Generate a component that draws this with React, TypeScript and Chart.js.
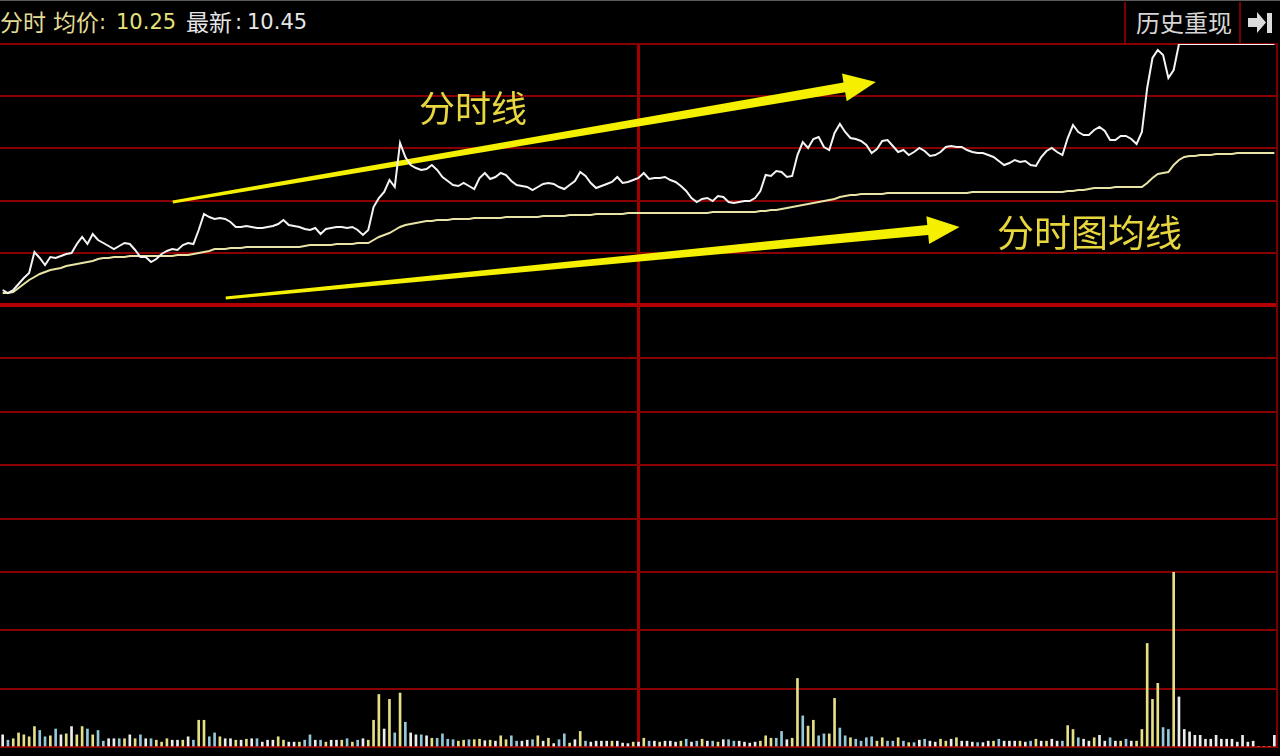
import React, { useEffect, useRef } from 'react';
import { Chart, registerables } from 'chart.js';

Chart.register(...registerables);

// ---------- data ----------
// minute labels of one trading day (09:30-11:30, 13:01-15:00)
const MORNING_START = 9 * 60 + 30;
const AFTERNOON_START = 13 * 60 + 1;
const TIME_LABELS: string[] = [];
for (let m = MORNING_START; m <= 11 * 60 + 30; m++) TIME_LABELS.push(`${Math.floor(m / 60)}:${String(m % 60).padStart(2, '0')}`);
for (let m = AFTERNOON_START; m <= 15 * 60; m++) TIME_LABELS.push(`${Math.floor(m / 60)}:${String(m % 60).padStart(2, '0')}`);
const MIDDAY_LABEL = '11:30';

// 分时线 (last price, each minute)
const PRICE = [
  9.958, 9.952, 9.958, 9.970, 9.982, 9.992, 10.034, 10.022, 10.008, 10.024,
  10.022, 10.026, 10.030, 10.032, 10.050, 10.064, 10.050, 10.070, 10.058, 10.052,
  10.046, 10.040, 10.046, 10.052, 10.050, 10.038, 10.024, 10.024, 10.014, 10.020,
  10.030, 10.036, 10.040, 10.038, 10.048, 10.052, 10.050, 10.078, 10.110, 10.104,
  10.100, 10.102, 10.100, 10.094, 10.084, 10.084, 10.086, 10.084, 10.082, 10.082,
  10.084, 10.086, 10.090, 10.098, 10.088, 10.086, 10.084, 10.080, 10.078, 10.082,
  10.070, 10.080, 10.082, 10.084, 10.084, 10.082, 10.084, 10.078, 10.068, 10.078,
  10.124, 10.142, 10.154, 10.178, 10.164, 10.252, 10.224, 10.208, 10.202, 10.198,
  10.200, 10.208, 10.198, 10.184, 10.176, 10.168, 10.166, 10.172, 10.166, 10.160,
  10.182, 10.192, 10.180, 10.184, 10.192, 10.188, 10.176, 10.168, 10.166, 10.164,
  10.158, 10.164, 10.170, 10.172, 10.170, 10.164, 10.160, 10.168, 10.176, 10.194,
  10.186, 10.172, 10.162, 10.166, 10.170, 10.174, 10.184, 10.172, 10.174, 10.178,
  10.182, 10.192, 10.180, 10.182, 10.182, 10.184, 10.178, 10.174, 10.166, 10.156,
  10.142, 10.134, 10.140, 10.142, 10.136, 10.146, 10.144, 10.134, 10.132, 10.134,
  10.136, 10.136, 10.142, 10.156, 10.188, 10.186, 10.196, 10.194, 10.184, 10.186,
  10.228, 10.254, 10.242, 10.260, 10.264, 10.244, 10.238, 10.272, 10.290, 10.274,
  10.262, 10.260, 10.256, 10.248, 10.232, 10.240, 10.256, 10.258, 10.246, 10.234,
  10.238, 10.228, 10.234, 10.242, 10.236, 10.226, 10.228, 10.234, 10.244, 10.246,
  10.244, 10.244, 10.238, 10.234, 10.232, 10.232, 10.228, 10.224, 10.216, 10.208,
  10.212, 10.218, 10.214, 10.216, 10.208, 10.206, 10.224, 10.236, 10.242, 10.234,
  10.228, 10.262, 10.288, 10.274, 10.268, 10.268, 10.278, 10.284, 10.276, 10.258,
  10.258, 10.266, 10.266, 10.260, 10.250, 10.274, 10.362, 10.422, 10.438, 10.428,
  10.382, 10.398, 10.45, 10.45, 10.45, 10.45, 10.45, 10.45, 10.45, 10.45,
  10.45, 10.45, 10.45, 10.45, 10.45, 10.45, 10.45, 10.45, 10.45, 10.45, 10.45,
];

// 分时图均线 (average price)
const AVG_PRICE = [
  9.952, 9.952, 9.954, 9.962, 9.970, 9.978, 9.984, 9.990, 9.994, 9.998,
  10.000, 10.002, 10.006, 10.008, 10.010, 10.012, 10.014, 10.016, 10.020, 10.022,
  10.022, 10.024, 10.024, 10.024, 10.026, 10.026, 10.026, 10.026, 10.026, 10.026,
  10.026, 10.026, 10.026, 10.028, 10.028, 10.028, 10.030, 10.032, 10.034, 10.036,
  10.040, 10.040, 10.040, 10.042, 10.042, 10.042, 10.044, 10.044, 10.044, 10.044,
  10.044, 10.044, 10.044, 10.044, 10.044, 10.044, 10.044, 10.046, 10.048, 10.048,
  10.048, 10.048, 10.048, 10.050, 10.050, 10.050, 10.050, 10.052, 10.052, 10.052,
  10.058, 10.064, 10.068, 10.072, 10.078, 10.084, 10.088, 10.090, 10.092, 10.094,
  10.096, 10.096, 10.098, 10.098, 10.098, 10.100, 10.100, 10.100, 10.100, 10.102,
  10.102, 10.102, 10.102, 10.102, 10.102, 10.104, 10.104, 10.104, 10.104, 10.104,
  10.104, 10.104, 10.106, 10.106, 10.106, 10.106, 10.106, 10.108, 10.108, 10.108,
  10.108, 10.108, 10.110, 10.110, 10.110, 10.110, 10.110, 10.110, 10.112, 10.112,
  10.112, 10.112, 10.112, 10.112, 10.112, 10.112, 10.112, 10.112, 10.112, 10.112,
  10.112, 10.112, 10.112, 10.112, 10.114, 10.114, 10.114, 10.114, 10.114, 10.114,
  10.114, 10.114, 10.114, 10.116, 10.116, 10.118, 10.118, 10.120, 10.122, 10.124,
  10.126, 10.128, 10.130, 10.132, 10.134, 10.136, 10.138, 10.140, 10.144, 10.146,
  10.148, 10.148, 10.150, 10.150, 10.150, 10.150, 10.150, 10.152, 10.152, 10.152,
  10.152, 10.152, 10.152, 10.152, 10.152, 10.152, 10.152, 10.152, 10.152, 10.152,
  10.152, 10.152, 10.152, 10.154, 10.154, 10.154, 10.154, 10.154, 10.154, 10.154,
  10.154, 10.154, 10.154, 10.154, 10.154, 10.154, 10.154, 10.154, 10.154, 10.154,
  10.154, 10.156, 10.156, 10.158, 10.158, 10.160, 10.162, 10.162, 10.162, 10.162,
  10.164, 10.164, 10.164, 10.164, 10.164, 10.164, 10.172, 10.182, 10.190, 10.192,
  10.194, 10.208, 10.218, 10.224, 10.226, 10.226, 10.228, 10.228, 10.228, 10.230,
  10.230, 10.230, 10.230, 10.232, 10.232, 10.232, 10.232, 10.232, 10.232, 10.232, 10.232,
];

// 成交量 (volume per minute)
const VOLUME = [
  250, 140, 170, 290, 250, 210, 420, 340, 210, 230,
  370, 250, 270, 420, 250, 420, 370, 250, 340, 120,
  170, 170, 170, 170, 250, 170, 250, 170, 170, 140,
  100, 170, 140, 140, 140, 210, 140, 550, 550, 210,
  290, 210, 170, 170, 140, 140, 160, 170, 170, 100,
  140, 140, 210, 140, 100, 100, 100, 140, 250, 140,
  140, 100, 140, 140, 140, 170, 100, 140, 170, 140,
  550, 1080, 370, 980, 290, 1110, 510, 290, 250, 250,
  230, 180, 180, 270, 160, 150, 120, 140, 150, 150,
  160, 130, 140, 120, 230, 150, 230, 120, 120, 140,
  150, 230, 120, 180, 70, 150, 270, 80, 150, 320,
  120, 100, 120, 120, 120, 120, 120, 80, 70, 100,
  100, 180, 120, 120, 100, 120, 120, 100, 120, 160,
  100, 120, 160, 120, 120, 100, 150, 150, 120, 120,
  100, 80, 100, 120, 230, 180, 180, 320, 150, 180,
  1410, 640, 430, 550, 230, 270, 270, 1000, 390, 230,
  190, 160, 120, 190, 210, 120, 190, 120, 120, 190,
  120, 90, 90, 140, 160, 120, 100, 160, 120, 160,
  190, 120, 120, 100, 90, 90, 120, 120, 160, 120,
  120, 120, 120, 100, 120, 160, 120, 120, 160, 120,
  120, 440, 360, 190, 160, 120, 190, 240, 120, 190,
  120, 120, 160, 120, 120, 360, 2130, 980, 1310, 400,
  360, 3600, 1030, 360, 310, 240, 240, 160, 160, 240,
  160, 160, 160, 100, 240, 100, 120, 0, 0, 0, 240,
];

// tick direction of each minute's volume: y = up, b = down, w = flat
const VOLUME_DIR =
  'wbyyyyybbyb' + 'wywyybybbw' + 'wbywybwbyy' + 'ywwywbyybb' + 'ywwywywbww' +
  'wyywwybbwb' + 'ywwybybwyy' + 'ywybybwwbw' + 'ybbbbyybyy' + 'wywyybbwwb' +
  'ywywbbywyb' + 'wwwwywwwyw' + 'ybwywwwybw' + 'bywbywbbww' + 'wwyyybbwyy' +
  'byybbyybby' + 'bbbbyybbyb' + 'ybwbwwyywy' + 'wwwbwwybww' + 'wywbywywwb' +
  'yybwwywwbw' + 'ybwyyyyybb' + 'ywwwwwwwwwwwwwwwwwww';

const PRICE_TICKS = [9.928, 10.0324, 10.1368, 10.2412, 10.3456, 10.45];
const INDICATOR_TICKS = [0, 1, 2, 3, 4, 5];
const VOLUME_TICKS = [0, 1200, 2400, 3600];

// annotation arrows (minute index, price)
const ARROW_START_IDX = [32.1, 42.1];
const ARROW_START_PRICE = [10.134, 9.942];
const ARROW_END_IDX = [164.8, 180.6];
const ARROW_END_PRICE = [10.374, 10.084];

// ---------- styles ----------
const GRID_RED = '#8a0000';
const SPLIT_RED = '#b00000';
const MID_RED = '#a00000';
const BORDER_RED = '#7a0000';
const DIR_COLORS: Record<string, string> = { y: '#e6df86', b: '#94c8d8', w: '#ececec' };
const CJK = '"Noto Sans CJK SC", "Noto Sans CJK TC", sans-serif';
const NUM = '"DejaVu Sans", "Noto Sans", sans-serif';

const MIDDAY_INDEX = TIME_LABELS.indexOf(MIDDAY_LABEL);

function xScale() {
  return {
    type: 'category' as const,
    offset: true,
    border: { display: false },
    ticks: { display: false },
    grid: {
      offset: false,
      drawTicks: false,
      color: (c: any) => (c.index === MIDDAY_INDEX ? MID_RED : 'rgba(0,0,0,0)'),
      lineWidth: (c: any) => (c.index === MIDDAY_INDEX ? 3 : 0),
    },
  };
}

function yScale(ticks: number[], gridColor: (v: number) => string, gridWidth: (v: number) => number) {
  return {
    type: 'linear' as const,
    position: 'right' as const,
    min: ticks[0],
    max: ticks[ticks.length - 1],
    afterBuildTicks: (s: any) => {
      s.ticks = ticks.map((v) => ({ value: v }));
    },
    ticks: { display: false },
    border: { display: true, color: BORDER_RED, width: 2 },
    grid: {
      drawTicks: false,
      color: (c: any) => gridColor(c.tick ? c.tick.value : 0),
      lineWidth: (c: any) => gridWidth(c.tick ? c.tick.value : 0),
    },
  };
}

const baseOptions = {
  responsive: false,
  animation: false as const,
  events: [] as any[],
  layout: { padding: { left: 0, right: 3, top: 2, bottom: 2 } },
  plugins: { legend: { display: false }, tooltip: { enabled: false }, title: { display: false } },
};

const arrowPlugin = {
  id: 'trendArrows',
  beforeDatasetsDraw(chart: any) {
    const { ctx, scales } = chart;
    const xs = scales.x;
    const ys = scales.y;
    ctx.save();
    ctx.fillStyle = '#f4f000';
    for (let k = 0; k < ARROW_START_IDX.length; k++) {
      const x0 = xs.getPixelForValue(ARROW_START_IDX[k]);
      const y0 = ys.getPixelForValue(ARROW_START_PRICE[k]);
      const x1 = xs.getPixelForValue(ARROW_END_IDX[k]);
      const y1 = ys.getPixelForValue(ARROW_END_PRICE[k]);
      const dx = x1 - x0;
      const dy = y1 - y0;
      const len = Math.hypot(dx, dy);
      const ux = dx / len;
      const uy = dy / len;
      const nx = -uy;
      const ny = ux;
      const headLen = 32;
      const headHalf = 14;
      const tailW = 3;
      const neckW = 10;
      const bx = x1 - ux * headLen;
      const by = y1 - uy * headLen;
      ctx.beginPath();
      ctx.moveTo(x0 + (nx * tailW) / 2, y0 + (ny * tailW) / 2);
      ctx.lineTo(bx + (nx * neckW) / 2, by + (ny * neckW) / 2);
      ctx.lineTo(bx + nx * headHalf, by + ny * headHalf);
      ctx.lineTo(x1, y1);
      ctx.lineTo(bx - nx * headHalf, by - ny * headHalf);
      ctx.lineTo(bx - (nx * neckW) / 2, by - (ny * neckW) / 2);
      ctx.lineTo(x0 - (nx * tailW) / 2, y0 - (ny * tailW) / 2);
      ctx.closePath();
      ctx.fill();
    }
    ctx.restore();
  },
};

export default function App() {
  const priceRef = useRef<HTMLCanvasElement | null>(null);
  const indRef = useRef<HTMLCanvasElement | null>(null);
  const volRef = useRef<HTMLCanvasElement | null>(null);

  useEffect(() => {
    const charts: Chart[] = [];
    const pMin = PRICE_TICKS[0];
    if (priceRef.current) {
      charts.push(
        new Chart(priceRef.current, {
          type: 'line',
          data: {
            labels: TIME_LABELS,
            datasets: [
              { label: '分时线', data: PRICE, borderColor: '#f4f4f4', borderWidth: 2, pointRadius: 0, tension: 0, fill: false },
              { label: '均价', data: AVG_PRICE, borderColor: '#e8e4a6', borderWidth: 2, pointRadius: 0, tension: 0, fill: false },
            ],
          },
          options: {
            ...baseOptions,
            scales: {
              x: xScale(),
              y: yScale(
                PRICE_TICKS,
                (v) => (v === pMin ? SPLIT_RED : GRID_RED),
                (v) => (v === pMin ? 4 : 2)
              ),
            },
          } as any,
          plugins: [arrowPlugin],
        })
      );
    }
    if (indRef.current) {
      const lo = INDICATOR_TICKS[0];
      const hi = INDICATOR_TICKS[INDICATOR_TICKS.length - 1];
      charts.push(
        new Chart(indRef.current, {
          type: 'line',
          data: { labels: TIME_LABELS, datasets: [] },
          options: {
            ...baseOptions,
            scales: {
              x: xScale(),
              y: yScale(
                INDICATOR_TICKS,
                (v) => (v === lo || v === hi ? 'rgba(0,0,0,0)' : GRID_RED),
                (v) => (v === lo || v === hi ? 0 : 2)
              ),
            },
          } as any,
        })
      );
    }
    if (volRef.current) {
      charts.push(
        new Chart(volRef.current, {
          type: 'bar',
          data: {
            labels: TIME_LABELS,
            datasets: [
              {
                label: '成交量',
                data: VOLUME,
                backgroundColor: VOLUME.map((_, i) => DIR_COLORS[VOLUME_DIR[i] || 'w']),
                borderWidth: 0,
                barThickness: 2,
              },
            ],
          },
          options: {
            ...baseOptions,
            scales: {
              x: xScale(),
              y: yScale(VOLUME_TICKS, () => GRID_RED, () => 2),
            },
          } as any,
        })
      );
    }
    return () => charts.forEach((c) => c.destroy());
  }, []);

  const abs = (s: React.CSSProperties): React.CSSProperties => ({ position: 'absolute', whiteSpace: 'nowrap', lineHeight: 1, ...s });

  return (
    <div style={{ position: 'fixed', left: 0, top: 0, width: 1280, height: 756, background: '#000', overflow: 'hidden' }}>
      <div style={{ position: 'absolute', left: 0, top: 0, width: 1280, height: 1, background: '#5c5c5c' }} />
      {/* header */}
      <span style={abs({ left: 0, top: 10, fontFamily: CJK, fontSize: 23, color: '#e4dc92' })}>分时</span>
      <span style={abs({ left: 53, top: 10, fontFamily: CJK, fontSize: 23, color: '#e4dc92' })}>均价</span>
      <span style={abs({ left: 99, top: 12, fontFamily: NUM, fontSize: 21, color: '#e4dc92' })}>:</span>
      <span style={abs({ left: 116, top: 12, fontFamily: NUM, fontSize: 21, color: '#e6e27a' })}>10.25</span>
      <span style={abs({ left: 186, top: 10, fontFamily: CJK, fontSize: 23, color: '#e6e6e6' })}>最新</span>
      <span style={abs({ left: 235, top: 12, fontFamily: NUM, fontSize: 21, color: '#e6e6e6' })}>:</span>
      <span style={abs({ left: 247, top: 12, fontFamily: NUM, fontSize: 21, color: '#e6e6e6' })}>10.45</span>

      <div style={{ position: 'absolute', left: 1124, top: 2, width: 2, height: 42, background: BORDER_RED }} />
      <div style={{ position: 'absolute', left: 1239, top: 2, width: 2, height: 42, background: BORDER_RED }} />
      <span style={abs({ left: 1136, top: 10, fontFamily: CJK, fontSize: 24, color: '#d6d6d6' })}>历史重现</span>
      <svg style={{ position: 'absolute', left: 1246, top: 10 }} width={28} height={26}>
        <polygon points="2,8 11,8 11,2 20,12.5 11,23 11,17 2,17" fill="#dcdcdc" />
        <rect x={21} y={3} width={5} height={20} fill="#dcdcdc" />
      </svg>

      <canvas ref={priceRef} width={1280} height={265} style={{ position: 'absolute', left: 0, top: 42, display: 'block' }} />
      <canvas ref={indRef} width={1280} height={271} style={{ position: 'absolute', left: 0, top: 303, display: 'block' }} />
      <canvas ref={volRef} width={1280} height={179} style={{ position: 'absolute', left: 0, top: 570, display: 'block' }} />

      {/* annotations */}
      <div style={abs({ left: 419, top: 88, fontFamily: CJK, fontSize: 36, color: '#e8d63e' })}>分时线</div>
      <div style={abs({ left: 997, top: 213, fontFamily: CJK, fontSize: 37, color: '#e8d63e' })}>分时图均线</div>
    </div>
  );
}
